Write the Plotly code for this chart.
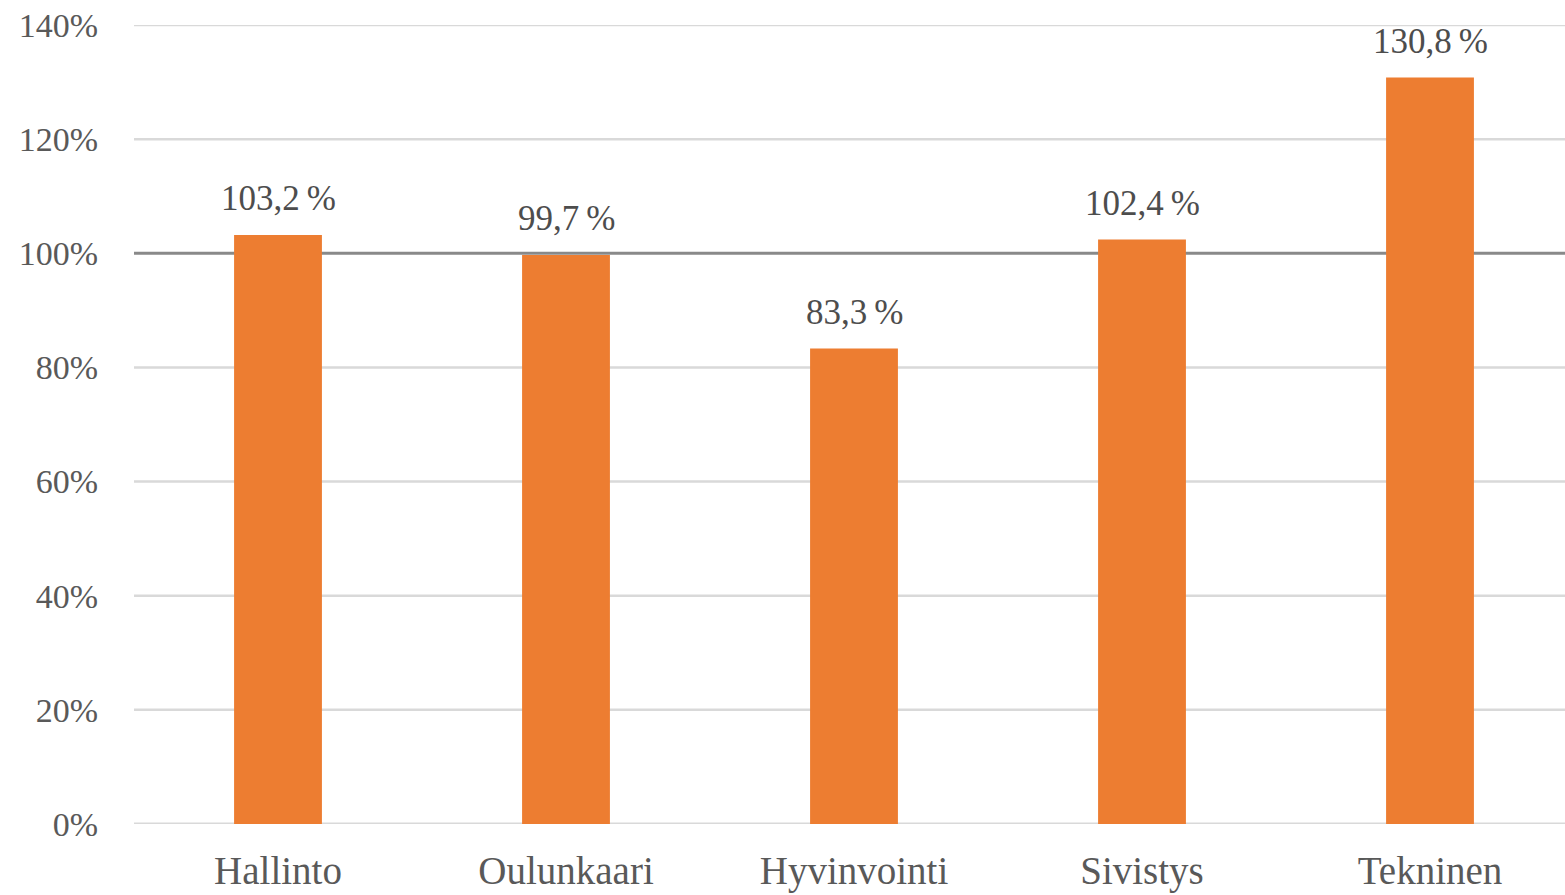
import plotly.graph_objects as go

categories = ["Hallinto", "Oulunkaari", "Hyvinvointi", "Sivistys", "Tekninen"]
values = [103.2, 99.7, 83.3, 102.4, 130.8]
y_ticks = [0, 20, 40, 60, 80, 100, 120, 140]
y_tick_labels = ["0%", "20%", "40%", "60%", "80%", "100%", "120%", "140%"]
reference_level = 100

labels = [f"{v:.1f}".replace(".", ",") + "\u202f%" for v in values]

FONT = "Liberation Serif"
TXT = "#595959"
GRID = "#d9d9d9"

fig = go.Figure()
fig.add_trace(go.Bar(
    x=categories, y=values,
    marker=dict(color="#ED7D31", line=dict(width=0)),
    width=0.305,
    hoverinfo="skip",
))

for c, v, t in zip(categories, values, labels):
    fig.add_annotation(x=c, y=v, text=t, showarrow=False, yanchor="bottom",
                       yshift=15, font=dict(family=FONT, size=35, color="#4d4d4d"))

# horizontal gridlines (drawn beneath the bars); the reference level is darker
for tv in y_ticks:
    is_ref = tv == reference_level
    fig.add_shape(type="line", xref="paper", x0=0, x1=1, yref="y", y0=tv, y1=tv,
                  line=dict(color="#898989" if is_ref else GRID,
                            width=3 if (is_ref or tv == 0) else 2.5),
                  layer="below")

fig.update_layout(
    width=1574, height=895,
    margin=dict(l=134, r=0, t=25, b=71),
    paper_bgcolor="white", plot_bgcolor="white",
    showlegend=False,
    font=dict(family=FONT, color=TXT),
    xaxis=dict(showgrid=False, showline=False,
               tickfont=dict(family=FONT, size=39, color=TXT),
               ticks="", ticklabelstandoff=20, zeroline=False),
    yaxis=dict(range=[0, 140], tickmode="array", tickvals=y_ticks, ticktext=y_tick_labels,
               showgrid=False, zeroline=False, showline=False, ticks="",
               tickfont=dict(family=FONT, size=34, color=TXT),
               ticklabelstandoff=35),
)

fig.write_html("out.html", config={"displayModeBar": False},
               post_script="document.body.style.margin='0px';document.body.style.overflow='hidden';")
